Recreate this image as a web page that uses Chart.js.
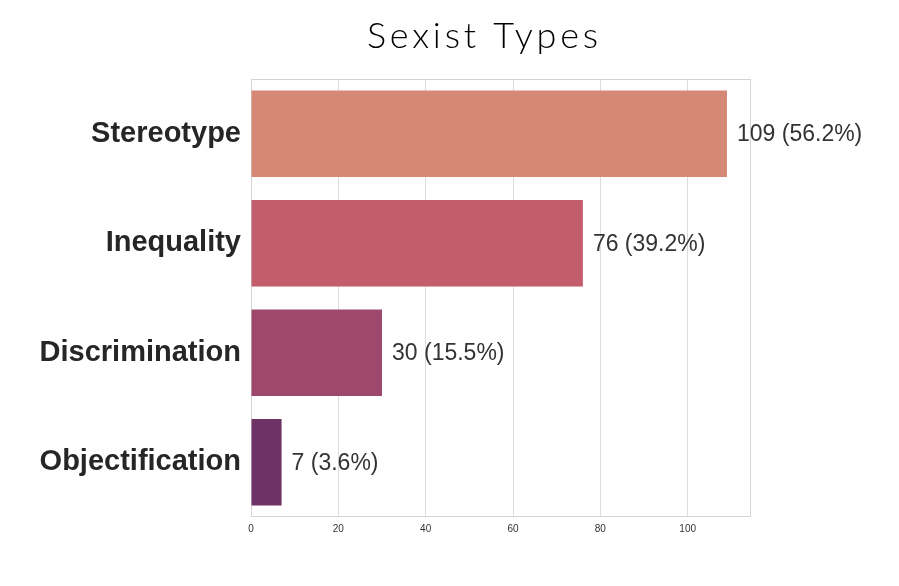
<!DOCTYPE html>
<html>
<head>
<meta charset="utf-8">
<script src="https://cdn.jsdelivr.net/npm/chart.js@4.4.0/dist/chart.umd.min.js"></script>
<style>
  html, body { margin: 0; padding: 0; background: #ffffff; }
  #wrap { width: 899px; height: 586px; position: relative; }
</style>
</head>
<body>
<div id="wrap"><canvas id="c" width="899" height="586"></canvas></div>
<script>
const titleText = "Sexist Types";
const categories = ["Stereotype", "Inequality", "Discrimination", "Objectification"];
const counts = [109, 76, 30, 7];
const percents = [56.2, 39.2, 15.5, 3.6];
const barColors = ["#d68876", "#c35d6b", "#9d486c", "#6e3266"];
const xTicks = [0, 20, 40, 60, 80, 100];
const xMax = 114.5;

const borderPlugin = {
  id: 'borderBox',
  beforeDatasetsDraw(chart) {
    const { ctx, chartArea: a } = chart;
    ctx.save();
    ctx.strokeStyle = '#d4d4d4';
    ctx.lineWidth = 1;
    ctx.strokeRect(Math.round(a.left) + 0.5, Math.round(a.top) + 0.5,
                   Math.round(a.right - a.left) - 1, Math.round(a.bottom - a.top) - 1);
    ctx.restore();
  }
};

const labelPlugin = {
  id: 'valueLabels',
  afterDatasetsDraw(chart) {
    const { ctx } = chart;
    const meta = chart.getDatasetMeta(0);
    ctx.save();
    ctx.font = '23px "Liberation Sans", Arial, sans-serif';
    ctx.fillStyle = '#333333';
    ctx.textAlign = 'left';
    ctx.textBaseline = 'middle';
    meta.data.forEach((el, i) => {
      const txt = counts[i] + ' (' + percents[i].toFixed(1) + '%)';
      ctx.fillText(txt, el.x + 10, el.y + 1);
    });
    ctx.restore();
  }
};

const titlePlugin = {
  id: 'customTitle',
  afterDraw(chart) {
    const { ctx } = chart;
    ctx.save();
    ctx.font = '300 36px Lato, "Open Sans", sans-serif';
    const w = ctx.measureText(titleText).width;
    const target = 231;
    const spacing = (target - w) / (titleText.length - 1);
    try { ctx.letterSpacing = spacing.toFixed(2) + 'px'; } catch (e) {}
    ctx.fillStyle = '#000000';
    ctx.textAlign = 'left';
    ctx.textBaseline = 'alphabetic';
    ctx.fillText(titleText, 367, 48);
    ctx.restore();
  }
};

new Chart(document.getElementById('c'), {
  type: 'bar',
  data: {
    labels: categories,
    datasets: [{
      data: counts,
      backgroundColor: barColors,
      borderWidth: 0,
      barPercentage: 0.79,
      categoryPercentage: 1.0
    }]
  },
  options: {
    indexAxis: 'y',
    responsive: false,
    animation: false,
    devicePixelRatio: 1,
    layout: { padding: { left: 0, right: 148, top: 79, bottom: 47 } },
    plugins: {
      legend: { display: false },
      title: { display: false },
      tooltip: { enabled: false }
    },
    scales: {
      x: {
        min: 0,
        max: xMax,
        afterBuildTicks(scale) { scale.ticks = xTicks.map(v => ({ value: v })); },
        afterFit(scale) { scale.height = 22; },
        grid: { color: '#dddddd', drawTicks: false, lineWidth: 1 },
        border: { display: false },
        ticks: {
          padding: 6,
          color: '#333333',
          font: { family: '"Liberation Sans", Arial, sans-serif', size: 10 }
        }
      },
      y: {
        afterFit(scale) { scale.width = 251; },
        grid: { display: false, drawTicks: false },
        border: { display: false },
        ticks: {
          padding: 10,
          color: '#262626',
          font: { family: '"Liberation Sans", Arial, sans-serif', size: 29, weight: 'bold' }
        }
      }
    }
  },
  plugins: [borderPlugin, labelPlugin, titlePlugin]
});
</script>
</body>
</html>
